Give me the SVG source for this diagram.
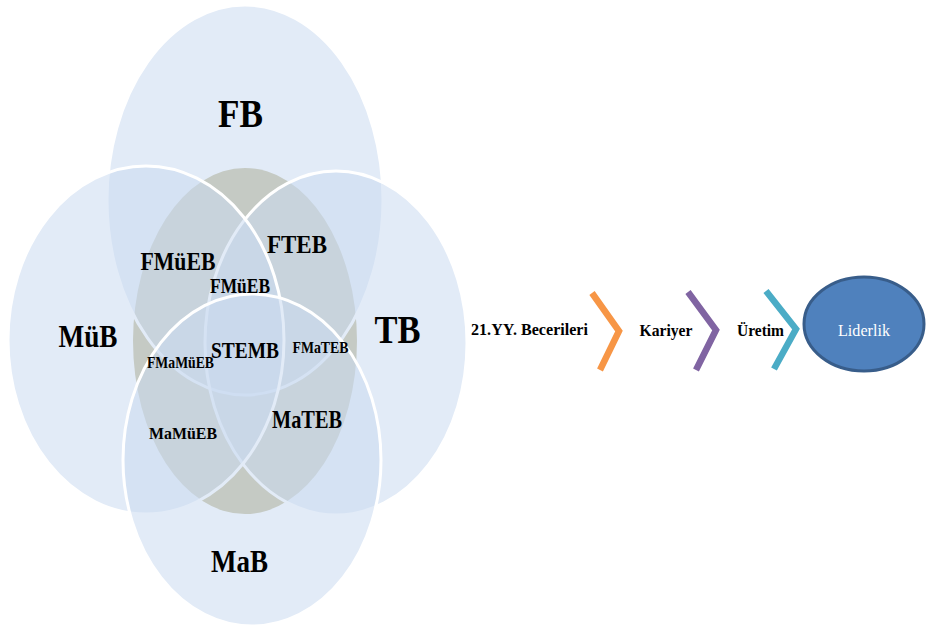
<svg xmlns="http://www.w3.org/2000/svg" width="926" height="632" viewBox="0 0 926 632">
<style>
.set{fill:#cadaf0;fill-opacity:0.55;stroke:#ffffff;stroke-width:3}
.core{fill:#bfb78f}
.t{font-family:"Liberation Serif","Times New Roman",serif;font-weight:bold;fill:#000000;text-anchor:middle}
.w{font-family:"Liberation Serif","Times New Roman",serif;font-weight:normal;fill:#ffffff;text-anchor:middle}
.chev{fill:none;stroke-width:6.5;stroke-linejoin:miter;stroke-linecap:butt}
</style>
<rect width="926" height="632" fill="#ffffff"/>
<g id="core"><ellipse class="core" cx="245" cy="341" rx="112" ry="173"/></g>
<g id="FB"><ellipse class="set" cx="245" cy="200" rx="138" ry="195"/>
<text class="t" x="240.5" y="127" font-size="39" textLength="45" lengthAdjust="spacingAndGlyphs">FB</text></g>
<g id="TB"><ellipse class="set" cx="336" cy="343" rx="131" ry="172"/>
<text class="t" x="397.5" y="343" font-size="40" textLength="46" lengthAdjust="spacingAndGlyphs">TB</text></g>
<g id="MuB"><ellipse class="set" cx="146" cy="340" rx="138" ry="174"/>
<text class="t" x="88" y="347" font-size="31" textLength="59" lengthAdjust="spacingAndGlyphs">MüB</text></g>
<g id="MaB"><ellipse class="set" cx="252" cy="460" rx="129" ry="166"/>
<text class="t" x="239.5" y="572" font-size="31" textLength="57" lengthAdjust="spacingAndGlyphs">MaB</text></g>
<g id="FTEB"><text class="t" x="297" y="253" font-size="25" textLength="60" lengthAdjust="spacingAndGlyphs">FTEB</text></g>
<g id="FMuEB"><text class="t" x="178" y="270" font-size="25" textLength="75" lengthAdjust="spacingAndGlyphs">FMüEB</text></g>
<g id="FMuEB-2"><text class="t" x="240" y="293" font-size="21" textLength="60" lengthAdjust="spacingAndGlyphs">FMüEB</text></g>
<g id="STEMB"><text class="t" x="245" y="358" font-size="23" textLength="68" lengthAdjust="spacingAndGlyphs">STEMB</text></g>
<g id="FMaMuEB"><text class="t" x="180.5" y="368" font-size="16" textLength="67" lengthAdjust="spacingAndGlyphs">FMaMüEB</text></g>
<g id="FMaTEB"><text class="t" x="320.5" y="353" font-size="16" textLength="56" lengthAdjust="spacingAndGlyphs">FMaTEB</text></g>
<g id="MaMuEB"><text class="t" x="183" y="439" font-size="17" textLength="68" lengthAdjust="spacingAndGlyphs">MaMüEB</text></g>
<g id="MaTEB"><text class="t" x="307" y="428" font-size="25" textLength="70" lengthAdjust="spacingAndGlyphs">MaTEB</text></g>
<g id="skills"><text class="t" x="529.5" y="335" font-size="17" textLength="117" lengthAdjust="spacingAndGlyphs">21.YY. Becerileri</text></g>
<g id="career"><text class="t" x="666" y="336" font-size="17" textLength="53" lengthAdjust="spacingAndGlyphs">Kariyer</text></g>
<g id="production"><text class="t" x="760.5" y="336" font-size="17" textLength="47" lengthAdjust="spacingAndGlyphs">Üretim</text></g>
<g id="leadership"><ellipse cx="864" cy="324" rx="60" ry="47" fill="#4f81bd" stroke="#385d8a" stroke-width="3"/>
<text class="w" x="864" y="336" font-size="17" textLength="52" lengthAdjust="spacingAndGlyphs">Liderlik</text></g>
<g id="connectors">
<polyline class="chev" stroke="#f79646" points="592,293 619,331 600,370"/>
<polyline class="chev" stroke="#8064a2" points="688,292 716,330 696,370"/>
<polyline class="chev" stroke="#4bacc6" points="766,291 796,329 774,369"/>
</g>
</svg>
